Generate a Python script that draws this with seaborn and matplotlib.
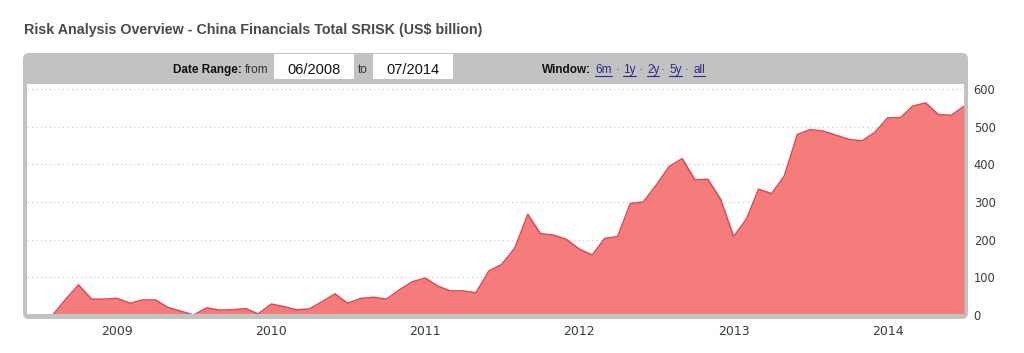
import numpy as np
import pandas as pd
import matplotlib
matplotlib.use('Agg')
import matplotlib.pyplot as plt
from matplotlib.patches import FancyBboxPatch, Rectangle
from matplotlib.lines import Line2D
import seaborn as sns

# monthly China financials total SRISK, Jun 2008 .. Jul 2014 (US$ bn)
months = pd.date_range('2008-06-01', '2014-07-01', freq='MS')
srisk = [0, 0, 0, 42, 80, 42, 42, 44, 31, 40, 40, 20, 10, 0, 19, 13, 14, 17, 3,
         29, 22, 14, 16, 35, 56, 31, 44, 47, 42, 67, 88, 98, 76, 64, 64, 59,
         117, 134, 177, 267, 216, 212, 201, 175, 159, 203, 208, 296, 300, 344,
         394, 415, 359, 360, 307, 208, 256, 334, 322, 369, 479, 492, 488, 477,
         466, 462, 484, 523, 524, 554, 563, 532, 530, 554]
year_labels = ['2009', '2010', '2011', '2012', '2013', '2014']
y_ticks = [0, 100, 200, 300, 400, 500, 600]
title = 'Risk Analysis Overview - China Financials Total SRISK (US$ billion)'
date_from, date_to = '06/2008', '07/2014'
window_links = ['6m', '1y', '2y', '5y', 'all']

sns.set_style('white')
plt.rcParams['font.family'] = ['DejaVu Sans']

W, H = 1024, 353
fig = plt.figure(figsize=(W / 100, H / 100), dpi=100)
fig.patch.set_facecolor('white')


def fx(px):
    return px / W


def fy(py):
    return 1 - py / H


# grey frame with rounded corners (pixel units -> inches)
frame = FancyBboxPatch((23 / 100, (H - 319) / 100), (968 - 23) / 100, (319 - 53) / 100,
                       boxstyle='round,pad=0,rounding_size=0.06',
                       transform=fig.dpi_scale_trans, fc='#c2c2c2', ec='none', zorder=-2)
fig.patches.append(frame)
# bottom edge of the frame sits over the zero baseline
fig.patches.append(Rectangle((fx(27), fy(319)), fx(964) - fx(27), fy(313.5) - fy(319),
                             transform=fig.transFigure, fc='#c2c2c2', ec='none', zorder=5))

# title
fig.text(fx(24), fy(34), title, fontsize=10.3, fontweight='bold', color='#4a4a4a',
         family=['Liberation Sans'], va='baseline', ha='left')

# header controls
hdr_base = fy(73)
fig.text(fx(172.7), hdr_base, 'Date Range:', fontsize=8.5, fontweight='bold',
         family=['Liberation Sans'], va='baseline', color='#111111')
fig.text(fx(245), hdr_base, 'from', fontsize=8.5, family=['Liberation Sans'],
         va='baseline', color='#333333')
fig.text(fx(358.3), hdr_base, 'to', fontsize=8.5, family=['Liberation Sans'],
         va='baseline', color='#333333')
for x0, x1, txt in [(274, 354, date_from), (373, 453, date_to)]:
    fig.patches.append(Rectangle((fx(x0), fy(79)), fx(x1) - fx(x0), fy(54) - fy(79),
                                 transform=fig.transFigure, fc='white', ec='none', zorder=-1))
    fig.text(fx((x0 + x1) / 2), fy(74), txt, fontsize=10.5, family=['Liberation Sans'],
             ha='center', va='baseline', color='#111111')

fig.text(fx(541.7), hdr_base, 'Window:', fontsize=8.5, fontweight='bold',
         family=['Liberation Sans'], va='baseline', color='#111111')
link_x = [595, 623, 647, 669, 693]
dot_x = [617.5, 640.5, 663, 687]
link_texts = []
for lx, lab in zip(link_x, window_links):
    t = fig.text(fx(lx), hdr_base, lab, fontsize=8.5, family=['Liberation Sans'],
                 va='baseline', color='#2b2b8f')
    link_texts.append(t)
for dx in dot_x:
    fig.text(fx(dx), hdr_base, '\u00b7', fontsize=8.5, family=['Liberation Sans'],
             va='baseline', ha='center', color='#444444')

# plot area
ax = fig.add_axes([fx(27), fy(315), fx(964) - fx(27), fy(84) - fy(315)])
ax.set_zorder(1)
ax.set_facecolor('white')
ax.fill_between(months, srisk, 0, color='#f47c7c', lw=0, zorder=2)
sns.lineplot(x=months, y=srisk, ax=ax, color='#e0484e', lw=1.1, zorder=3)

ax.set_xlim(months[0], months[-1])
ax.set_ylim(0, 613)
ax.set_yticks(y_ticks)
ax.set_yticklabels([str(v) for v in y_ticks])
ax.yaxis.tick_right()
year_pos = [pd.Timestamp(f'{y}-01-01') for y in year_labels]
ax.set_xticks(year_pos)
ax.set_xticklabels(year_labels)
ax.tick_params(axis='y', length=0, pad=7, labelsize=8.3, labelcolor='#3a3a3a')
ax.tick_params(axis='x', length=0, pad=7, labelsize=9, labelcolor='#3a3a3a')
ax.grid(axis='y', linestyle=(0, (1, 3)), color='#c8c8c8', lw=0.8)
ax.grid(axis='x', visible=False)
ax.set_axisbelow(True)
for s in ax.spines.values():
    s.set_visible(False)
ax.set_xlabel('')
ax.set_ylabel('')

# underline the window links
fig.canvas.draw()
r = fig.canvas.get_renderer()
inv = fig.transFigure.inverted()
for t in link_texts:
    bb = t.get_window_extent(r)
    (x0, _), (x1, _) = inv.transform([(bb.x0, 0), (bb.x1, 0)])
    fig.lines.append(Line2D([x0, x1], [fy(75.5), fy(75.5)], transform=fig.transFigure,
                            color='#2b2b8f', lw=0.8))

fig.savefig('out.png', dpi=100)
